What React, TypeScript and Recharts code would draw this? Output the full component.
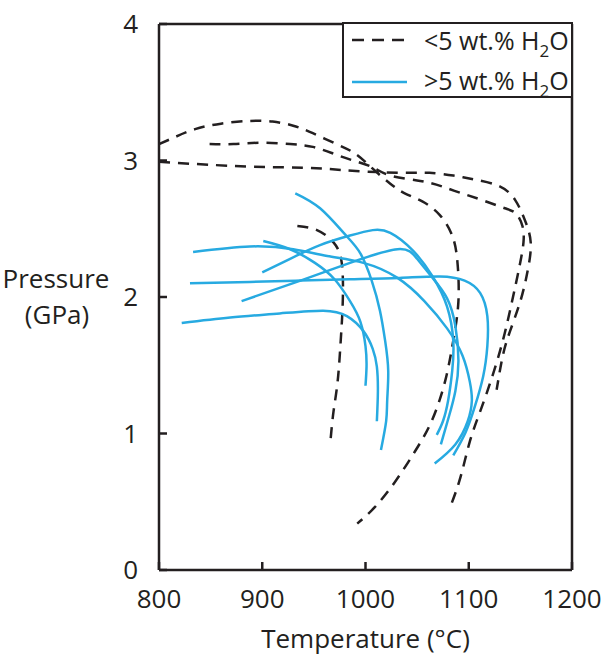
import React from 'react';
import { LineChart, Line, XAxis, YAxis, ReferenceLine, Label } from 'recharts';

const ink = '#231f20';
const cyan = '#27aae1';
const font = '"Open Sans", sans-serif';

const tempTicks = [800, 900, 1000, 1100, 1200];
const pressTicks = [0, 1, 2, 3, 4];

// [temperature °C, pressure GPa]

// <5 wt.% H2O (dashed)
const dryA = [[800, 3.12], [815, 3.17], [835, 3.23], [860, 3.27], [888, 3.29], [910, 3.285], [930, 3.255], [949, 3.2], [972, 3.12], [990, 3.05], [1007, 2.94], [1024, 2.83], [1038, 2.76], [1055, 2.7], [1072, 2.6], [1084, 2.45], [1089, 2.26], [1090, 1.97], [1085, 1.68], [1077, 1.38], [1064, 1.09], [1048, 0.87], [1029, 0.65], [1009, 0.46], [992, 0.34]];
const dryB = [[849, 3.12], [872, 3.12], [898, 3.13], [927, 3.12], [949, 3.1], [969, 3.05], [988, 3.0], [1007, 2.95], [1024, 2.89], [1053, 2.85], [1074, 2.81], [1093, 2.76], [1113, 2.71], [1135, 2.65], [1146, 2.61], [1152, 2.52], [1153, 2.4], [1149, 2.22], [1142, 1.97], [1133, 1.68], [1122, 1.4], [1111, 1.16], [1101, 0.94], [1092, 0.68], [1082, 0.46]];
const dryC = [[800, 2.99], [872, 2.96], [920, 2.95], [959, 2.94], [998, 2.92], [1040, 2.91], [1062, 2.91], [1085, 2.89], [1106, 2.86], [1130, 2.81], [1145, 2.71], [1154, 2.57], [1160, 2.4], [1157, 2.19], [1150, 1.97], [1140, 1.75], [1133, 1.57], [1127, 1.32]];
const dryD = [[934, 2.52], [953, 2.49], [969, 2.4], [977, 2.25], [978, 1.97], [976, 1.68], [973, 1.38], [969, 1.16], [966, 0.94]];

// >5 wt.% H2O (solid)
const wetA = [[932, 2.76], [956, 2.65], [980, 2.46], [995, 2.32], [1006, 2.12], [1014, 1.9], [1019, 1.68], [1022, 1.46], [1021, 1.24], [1020, 1.09], [1015, 0.88]];
const wetB = [[901, 2.41], [927, 2.35], [951, 2.25], [970, 2.13], [985, 1.97], [995, 1.82], [1000, 1.64], [1001, 1.49], [1000, 1.35]];
const wetC = [[822, 1.81], [869, 1.85], [917, 1.88], [959, 1.9], [982, 1.86], [998, 1.75], [1007, 1.62], [1011, 1.49], [1012, 1.31], [1011, 1.09]];
const wetD = [[833, 2.33], [888, 2.37], [930, 2.35], [963, 2.3], [998, 2.25], [1031, 2.14], [1057, 1.97], [1079, 1.77], [1094, 1.57], [1101, 1.38], [1103, 1.24], [1099, 1.09], [1087, 0.92], [1067, 0.78]];
const wetE = [[830, 2.1], [888, 2.11], [937, 2.12], [985, 2.13], [1033, 2.14], [1072, 2.15], [1096, 2.12], [1111, 2.03], [1118, 1.86], [1118, 1.64], [1114, 1.42], [1106, 1.2], [1097, 1.01], [1085, 0.84]];
const wetF = [[880, 1.97], [937, 2.12], [985, 2.25], [1031, 2.35], [1050, 2.28], [1065, 2.14], [1079, 1.99], [1087, 1.79], [1090, 1.53], [1087, 1.31], [1081, 1.13], [1073, 0.92]];
const wetG = [[900, 2.18], [927, 2.28], [956, 2.38], [985, 2.45], [1007, 2.49], [1024, 2.47], [1046, 2.34], [1065, 2.15], [1079, 1.93], [1085, 1.68], [1084, 1.46], [1080, 1.24], [1075, 1.09], [1069, 0.99]];

const dryCurves = [dryA, dryB, dryC, dryD];
const wetCurves = [wetA, wetB, wetC, wetD, wetE, wetF, wetG];

const toPts = (pairs: number[][]) => pairs.map(([t, p]) => ({ t, p }));

const PressureLabel = (props: any) => {
    const { x, y, height } = props.viewBox;
    const cy = y + height / 2;
    return (
        <text fill={ink} fontFamily={font} fontSize={26} textAnchor="middle">
            <tspan x={x + 56} y={cy - 9}>Pressure</tspan>
            <tspan x={x + 57} y={cy + 27}>(GPa)</tspan>
        </text>
    );
};

const tickStyle = { fill: ink, fontSize: 26, fontFamily: font };

const App = () => {
    return (
        <div style={{ position: 'absolute', left: 0, top: 0, width: 615, height: 665, background: '#fff' }}>
            <LineChart width={615} height={665} margin={{ top: 24, right: 43, left: 0, bottom: 10 }}>
                <XAxis
                    dataKey="t"
                    type="number"
                    domain={[800, 1200]}
                    ticks={tempTicks}
                    height={85}
                    tickSize={-8}
                    tickMargin={28}
                    tick={tickStyle}
                    stroke={ink}
                    strokeWidth={2.5}
                    allowDataOverflow
                >
                    <Label value="Temperature (°C)" position="insideBottom" offset={7} fill={ink} fontSize={26} fontFamily={font} />
                </XAxis>
                <YAxis
                    dataKey="p"
                    type="number"
                    domain={[0, 4]}
                    ticks={pressTicks}
                    width={159}
                    tickSize={-8}
                    tickMargin={29}
                    tick={tickStyle}
                    stroke={ink}
                    strokeWidth={2.5}
                    allowDataOverflow
                >
                    <Label content={PressureLabel} />
                </YAxis>
                <ReferenceLine x={1200} stroke={ink} strokeWidth={2.5} />
                <ReferenceLine y={4} stroke={ink} strokeWidth={2.5} />
                {dryCurves.map((c, i) => (
                    <Line
                        key={'dry' + i}
                        data={toPts(c)}
                        dataKey="p"
                        type="natural"
                        stroke={ink}
                        strokeWidth={2.5}
                        strokeDasharray="11 8"
                        dot={false}
                        activeDot={false}
                        isAnimationActive={false}
                    />
                ))}
                {wetCurves.map((c, i) => (
                    <Line
                        key={'wet' + i}
                        data={toPts(c)}
                        dataKey="p"
                        type="natural"
                        stroke={cyan}
                        strokeWidth={2.5}
                        dot={false}
                        activeDot={false}
                        isAnimationActive={false}
                    />
                ))}
            </LineChart>
            <svg width={615} height={665} style={{ position: 'absolute', left: 0, top: 0, pointerEvents: 'none' }}>
                <rect x={343} y={23} width={229} height={74} fill="#fff" stroke={ink} strokeWidth={2} />
                <line x1={352} y1={40} x2={407} y2={40} stroke={ink} strokeWidth={2.4} strokeDasharray="12 8" />
                <line x1={352} y1={82} x2={407} y2={82} stroke={cyan} strokeWidth={2.4} />
                <text fill={ink} fontFamily={font} fontSize={25} x={424} y={50}>
                    {'<5 wt.% H'}
                    <tspan fontSize={17} dy={7}>2</tspan>
                    <tspan dy={-7}>O</tspan>
                </text>
                <text fill={ink} fontFamily={font} fontSize={25} x={424} y={90}>
                    {'>5 wt.% H'}
                    <tspan fontSize={17} dy={7}>2</tspan>
                    <tspan dy={-7}>O</tspan>
                </text>
            </svg>
        </div>
    );
};

export default App;
